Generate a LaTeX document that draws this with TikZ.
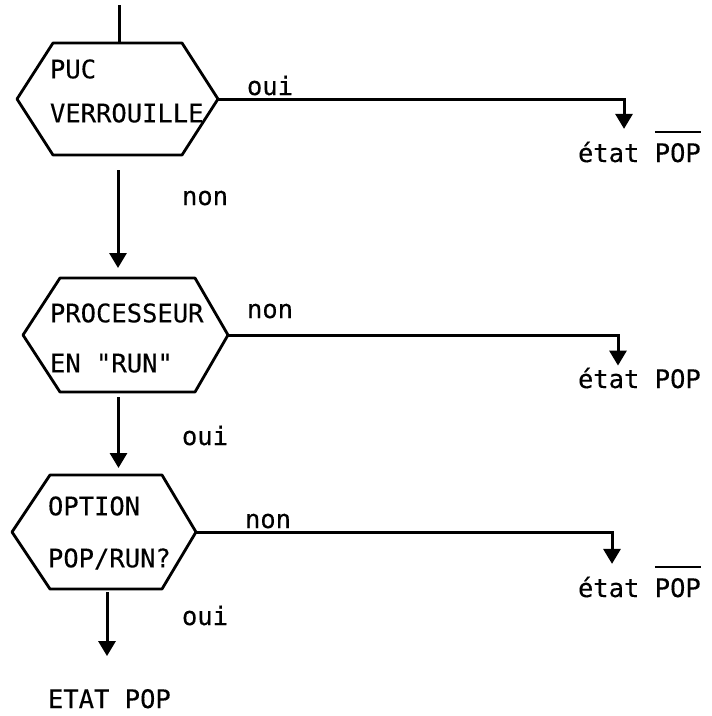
\documentclass[tikz,border=0pt]{standalone}
\usepackage{fontspec}
\newfontfamily\ocrfont{DejaVu Sans Mono}[FakeBold=0.25]
\usetikzlibrary{arrows.meta,calc}

\newcommand\barre[1]{\vbox{\hrule height 2.2pt\kern 10pt\hbox{#1}}}
\newcommand\hexframe[3]{%
  \draw[frame] ($(#1.north west)+(#2,0)$) -- ($(#1.north east)+(-#3,0)$) -- (#1.east)
    -- ($(#1.south east)+(-#3,0)$) -- ($(#1.south west)+(#2,0)$) -- (#1.west) -- cycle;}

\begin{document}
\begin{tikzpicture}[x=1pt, y=-1pt,
      every node/.style = {font=\ocrfont\fontsize{25.5}{48}\selectfont,
        inner sep=0pt, outer sep=0pt},
      boite/.style = {rectangle, minimum height=114pt},
      texte/.style = {anchor=west, align=left},
      reponse/.style = {anchor=base west},
      etat/.style = {anchor=base west, inner sep=2pt},
      frame/.style = {line width=2.8pt, line join=round},
      flow/.style = {line width=3pt, -{Triangle[width=17pt,length=15pt]}}]
  \useasboundingbox (0,0) rectangle (712,716);

  % les trois tests
  \node[boite, minimum width=201pt, minimum height=112pt] (h1) at (117.5,99) {};
  \node[boite, minimum width=205pt] (h2) at (125.5,335) {};
  \node[boite, minimum width=184pt] (h3) at (104,532) {};
  \hexframe{h1}{36}{36}
  \hexframe{h2}{37}{33}
  \hexframe{h3}{38}{34}

  \node[texte, font=\ocrfont\fontsize{25.5}{44}\selectfont] (t1) at (50,91) {PUC\\VERROUILLE};
  \node[texte, font=\ocrfont\fontsize{25.5}{50}\selectfont] (t2) at (50,338) {PROCESSEUR\\EN "RUN"};
  \node[texte, font=\ocrfont\fontsize{25.5}{52}\selectfont] (t3) at (48,533) {OPTION\\POP/RUN?};

  % etats
  \node[etat] (e1) at (576,162) {état \barre{POP}};
  \node[etat] (e2) at (576,388) {état POP};
  \node[etat] (e3) at (576,597) {état \barre{POP}};
  \node[etat] (fin) at (46,708) {ETAT POP};

  % reponses
  \node[reponse] (oui1) at (247,95) {oui};
  \node[reponse] (non1) at (182,205) {non};
  \node[reponse] (non2) at (247,318) {non};
  \node[reponse] (oui2) at (182,445) {oui};
  \node[reponse] (non3) at (245,528) {non};
  \node[reponse] (oui3) at (182,625) {oui};

  % liaisons
  \coordinate (entree) at (119,5);
  \draw[flow, -] (entree) -- (entree |- h1.north);
  \draw[flow, shorten <=15pt, shorten >=10pt] ($(h1.south)+(0.5,0)$) -- ($(h1.south |- h2.north)+(0.5,0)$);
  \draw[flow, shorten <=5pt, shorten >=7pt] ($(h2.south)+(-7,0)$) -- ($(h2.south |- h3.north)+(-7,0)$);
  \draw[flow, shorten <=3pt, shorten >=31pt] ($(h3.south)+(3,0)$) -- ($(h3.south |- fin.north)+(3,0)$);
  \draw[flow] (h1.east) -| ($(e1.north west)+(48,0)$);
  \draw[flow] (h2.east) -| ($(e2.north west)+(42,0)$);
  \draw[flow] (h3.east) -| ($(e3.north west)+(36,0)$);
\end{tikzpicture}
\end{document}
